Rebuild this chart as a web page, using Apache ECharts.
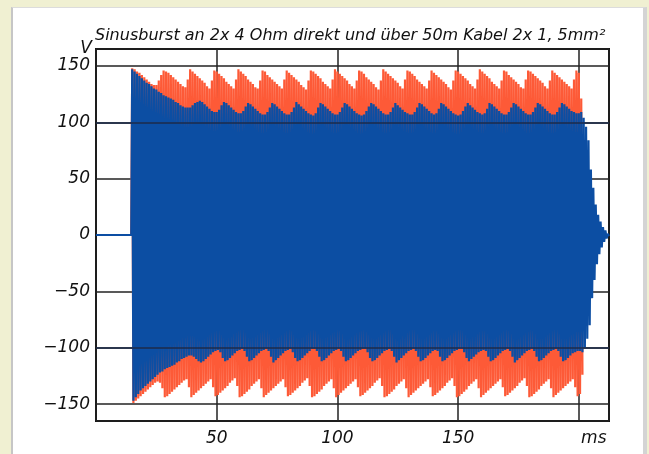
<!DOCTYPE html>
<html>
<head>
<meta charset="utf-8">
<title>Sinusburst</title>
<script src="https://cdn.jsdelivr.net/npm/echarts@6/dist/echarts.min.js"></script>
<style>
  html, body { margin: 0; padding: 0; background: #f0f0d2; width: 649px; height: 454px; overflow: hidden; }
  #panel { position: absolute; left: 11px; top: 7px; width: 630px; height: 460px; background: #ffffff;
           border-left: 2px solid #c6c6c6; border-right: 4px solid #d4d4d4; border-top: 1px solid #dcdcdc; }
  #chart { position: absolute; left: 0; top: 0; width: 649px; height: 454px; }
</style>
</head>
<body>
<div id="panel"></div>
<div id="chart"></div>
<script>
// Burst timing (ms): each entry is one carrier cycle, positive peak then negative peak
const burstStart = 15;
const cycleMs = 1;
const leadIn = [[0, 0], [14.6, 0]];

// Direct connection at 2x 4 Ohm: cycle peaks (V), t = 15 .. 201 ms
const directHigh = [
  148,147,145,144,142,140,138,136,134,133,133,137,142,
  146,145,144,142,140,138,136,134,132,131,138,
  147,145,143,141,139,137,135,132,130,137,
  146,145,143,141,139,136,134,132,130,138,
  147,145,143,141,138,136,134,131,130,137,
  146,145,142,140,138,136,134,132,130,138,
  146,144,142,140,138,136,133,131,129,137,
  146,145,143,141,139,136,134,132,130,138,
  147,145,143,141,139,137,134,132,130,137,
  146,145,143,140,138,136,134,131,129,137,
  147,145,143,141,139,137,135,132,130,138,
  146,145,143,141,138,136,134,132,130,137,
  146,144,142,140,138,136,134,131,129,137,
  146,145,143,141,139,137,134,132,130,138,
  147,145,143,141,139,136,134,132,130,137,
  146,145,142,140,138,136,134,131,130,138,
  146,145,143,141,139,137,135,132,130,137,
  146,144,142,140,138,136,134,132,130,138,
  146,144,121
];
const directLow = [
  -149,-147,-145,-143,-141,-139,-137,-135,-133,-131,-130,-131,-136,
  -144,-143,-141,-139,-137,-135,-133,-131,-129,-128,-135,
  -144,-142,-140,-138,-136,-134,-132,-130,-128,-135,
  -143,-142,-140,-138,-136,-134,-131,-129,-127,-134,
  -144,-143,-141,-139,-137,-134,-132,-130,-128,-136,
  -144,-142,-140,-138,-136,-134,-132,-130,-128,-135,
  -143,-142,-140,-138,-136,-134,-131,-129,-127,-134,
  -144,-143,-141,-139,-137,-134,-132,-130,-128,-136,
  -144,-142,-140,-138,-136,-134,-132,-130,-128,-135,
  -143,-142,-140,-138,-136,-134,-131,-129,-127,-134,
  -144,-143,-141,-139,-137,-134,-132,-130,-128,-136,
  -144,-142,-140,-138,-136,-134,-132,-130,-128,-135,
  -143,-142,-140,-138,-136,-134,-131,-129,-127,-134,
  -144,-143,-141,-139,-137,-134,-132,-130,-128,-136,
  -144,-142,-140,-138,-136,-134,-132,-130,-128,-135,
  -143,-142,-140,-138,-136,-134,-131,-129,-127,-134,
  -144,-143,-141,-139,-137,-134,-132,-130,-128,-136,
  -144,-142,-140,-138,-136,-134,-132,-130,-128,-135,
  -143,-141,-124
];

// Through 50 m of 2x 1.5 mm² cable: cycle peaks (V), t = 15 .. 212 ms
const cableHigh = [
  147,145,143,141,139,137,135,134,132,130,129,127,126,124,123,122,121,120,118,117,115,114,113,113,113,115,117,118,
  119,118,116,114,112,110,109,109,111,115,
  118,117,115,113,111,109,108,108,110,114,
  117,116,114,112,110,108,107,107,109,113,
  117,116,114,112,110,108,107,107,109,113,
  118,116,114,112,110,108,107,106,108,113,
  117,116,114,112,110,108,107,107,109,113,
  117,116,114,112,110,108,107,106,107,110,114,
  117,116,114,112,110,108,107,107,109,113,
  117,115,113,111,109,108,107,107,109,113,
  117,116,114,112,110,108,107,108,112,
  117,116,114,112,110,108,107,106,107,110,114,
  117,115,113,111,109,108,107,108,112,
  117,116,114,112,110,108,107,107,109,113,
  117,116,114,112,110,108,107,107,109,113,
  117,116,114,112,110,108,107,107,109,113,
  117,116,114,112,110,109,108,108,109,
  104,96,84,58,42,27,18,12,7,4,1
];
const cableLow = [
  -147,-144,-141,-138,-136,-134,-132,-130,-128,-126,-124,-122,-121,-119,-118,-117,-116,-115,-113,-112,-110,-109,-108,-107,-107,-108,-110,-112,
  -113,-112,-110,-108,-106,-104,-103,-102,-104,-109,
  -112,-111,-109,-107,-105,-103,-102,-101,-103,-108,
  -112,-111,-109,-107,-105,-103,-102,-101,-103,-108,
  -113,-111,-109,-107,-105,-103,-102,-101,-104,-109,
  -112,-111,-109,-107,-105,-103,-101,-101,-103,-108,
  -112,-111,-109,-107,-105,-103,-102,-101,-103,-108,
  -112,-111,-109,-107,-105,-103,-102,-101,-101,-104,-109,
  -112,-111,-109,-107,-105,-103,-102,-101,-103,-108,
  -113,-111,-109,-107,-105,-103,-102,-101,-103,-108,
  -112,-111,-109,-107,-105,-103,-102,-103,-108,
  -112,-111,-109,-107,-105,-103,-102,-101,-101,-104,-109,
  -112,-110,-108,-106,-104,-103,-102,-103,-108,
  -112,-111,-109,-107,-105,-103,-102,-101,-103,-108,
  -113,-111,-109,-107,-105,-103,-102,-101,-103,-108,
  -112,-111,-109,-107,-105,-103,-102,-101,-103,-108,
  -112,-111,-109,-107,-105,-104,-103,-103,-104,
  -100,-92,-80,-56,-40,-26,-17,-11,-6,-3,-1
];

// Grid levels that stay visible on top of the traces
const overlayLevels = [100, -100];

const titleText = 'Sinusburst an 2x 4 Ohm direkt und über 50m Kabel 2x 1, 5mm²';
const xUnit = 'ms';
const yUnit = 'V';

// Turn per-cycle peaks into a trace that swings from each positive peak to the negative one
function trace(high, low) {
  const pts = leadIn.slice();
  for (let i = 0; i < high.length; i++) {
    const t = burstStart + i * cycleMs;
    pts.push([t, high[i]]);
    pts.push([t + cycleMs / 2, low[i]]);
  }
  return pts;
}

const font = 'DejaVu Sans';
const chart = echarts.init(document.getElementById('chart'), null, { renderer: 'canvas' });
chart.setOption({
  backgroundColor: 'transparent',
  animation: false,
  title: {
    text: titleText,
    left: 90,
    top: 23,
    textStyle: { fontFamily: font, fontStyle: 'italic', fontWeight: 'normal', fontSize: 16, color: '#111' }
  },
  grid: {
    left: 96, right: 40, top: 49, bottom: 33,
    show: true, borderColor: '#111', borderWidth: 2, backgroundColor: '#fff'
  },
  xAxis: {
    type: 'value',
    min: 0, max: 212.5,
    splitNumber: 4,
    axisLine: { show: false },
    axisTick: { show: false },
    splitLine: { show: true, lineStyle: { color: '#222', width: 1.5 } },
    axisLabel: {
      margin: 9,
      fontFamily: font, fontStyle: 'italic', fontSize: 17, color: '#111',
      formatter: function (v) {
        if (v === 200) return '{u|' + xUnit + '}';
        if (v > 0 && v % 50 === 0) return String(v);
        return '';
      },
      rich: { u: { fontFamily: font, fontStyle: 'italic', fontSize: 17, color: '#111', padding: [0, 0, 0, 30] } }
    }
  },
  yAxis: {
    type: 'value',
    min: -165, max: 165,
    splitNumber: 6,
    name: yUnit,
    nameLocation: 'end',
    nameGap: -8,
    nameTextStyle: { fontFamily: font, fontStyle: 'italic', fontSize: 17, color: '#111', align: 'right', verticalAlign: 'middle', padding: [0, 4, 0, 0] },
    axisLine: { show: false },
    axisTick: { show: false },
    splitLine: { show: true, lineStyle: { color: '#222', width: 1.5 } },
    axisLabel: {
      margin: 6,
      fontFamily: font, fontStyle: 'italic', fontSize: 17, color: '#111',
      formatter: function (v) {
        if (v % 50 !== 0) return '';
        return v < 0 ? '\u2212' + (-v) : String(v);
      }
    }
  },
  series: [
    {
      name: 'direkt',
      type: 'line',
      data: trace(directHigh, directLow),
      showSymbol: false,
      symbol: 'none',
      lineStyle: { color: '#fd5a37', width: 2.2 },
      z: 2
    },
    {
      name: '50m Kabel',
      type: 'line',
      data: trace(cableHigh, cableLow),
      showSymbol: false,
      symbol: 'none',
      lineStyle: { color: '#0c4ea3', width: 2.2 },
      z: 3,
      markLine: {
        silent: true,
        symbol: 'none',
        label: { show: false },
        lineStyle: { color: '#1d2b4a', width: 1.5, type: 'solid' },
        data: overlayLevels.map(function (v) { return { yAxis: v }; })
      }
    }
  ]
});
</script>
</body>
</html>
